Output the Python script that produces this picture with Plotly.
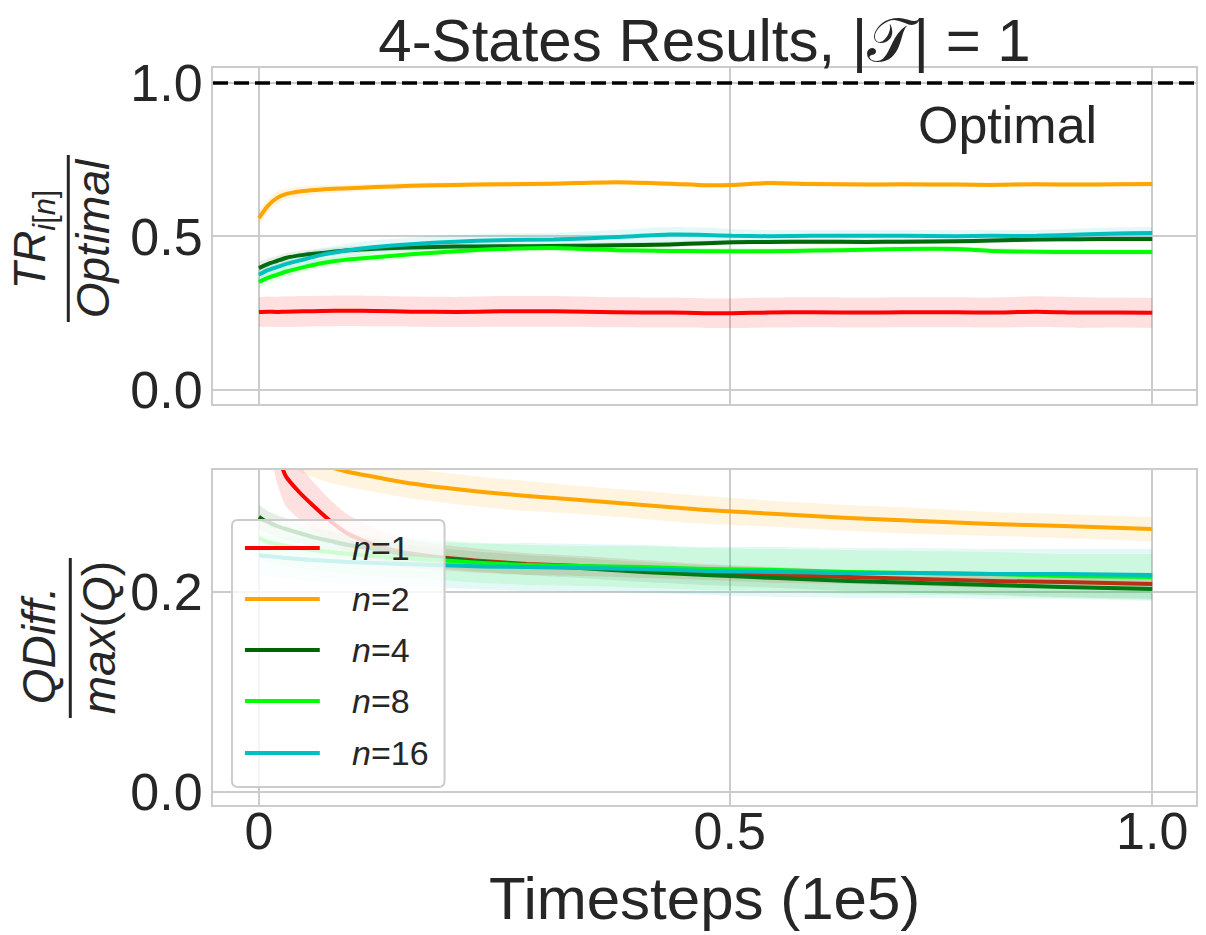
import plotly.graph_objects as go

# ---------------- data ----------------
n_values = [1, 2, 4, 8, 16]
line_colors = ["#ff0000", "#ffa500", "#006400", "#00ff00", "#00bfbf"]
band_colors = ["rgba(255,0,0,0.12)", "rgba(255,165,0,0.12)", "rgba(0,100,0,0.10)",
               "rgba(0,255,0,0.10)", "rgba(0,191,191,0.10)"]

# x positions are in units of 1e5 timesteps
x_top = [0, 0.01, 0.02, 0.03, 0.05, 0.07, 0.10, 0.13, 0.17, 0.22, 0.27, 0.33, 0.40,
         0.46, 0.50, 0.53, 0.57, 0.62, 0.68, 0.72, 0.78, 0.82, 0.87, 0.92, 0.96, 1.00]

tr_n1 = [0.254, 0.255, 0.254, 0.255, 0.256, 0.257, 0.258, 0.257, 0.255, 0.254, 0.256, 0.256, 0.253,
         0.252, 0.250, 0.250, 0.252, 0.253, 0.252, 0.253, 0.253, 0.252, 0.255, 0.252, 0.252, 0.251]
tr_n2 = [0.560, 0.600, 0.625, 0.638, 0.648, 0.653, 0.657, 0.661, 0.665, 0.668, 0.670, 0.672, 0.677,
         0.672, 0.667, 0.668, 0.674, 0.671, 0.669, 0.670, 0.669, 0.668, 0.670, 0.669, 0.670, 0.671]
tr_n4 = [0.397, 0.410, 0.420, 0.430, 0.440, 0.446, 0.455, 0.460, 0.464, 0.467, 0.468, 0.469, 0.471,
         0.474, 0.478, 0.481, 0.482, 0.483, 0.482, 0.483, 0.484, 0.487, 0.490, 0.491, 0.492, 0.492]
tr_n8 = [0.352, 0.365, 0.375, 0.385, 0.400, 0.413, 0.425, 0.432, 0.442, 0.452, 0.459, 0.462, 0.455,
         0.453, 0.452, 0.452, 0.452, 0.454, 0.457, 0.459, 0.459, 0.453, 0.450, 0.449, 0.449, 0.449]
tr_n16 = [0.375, 0.390, 0.400, 0.410, 0.425, 0.440, 0.455, 0.466, 0.475, 0.483, 0.488, 0.490, 0.498,
          0.506, 0.505, 0.502, 0.501, 0.502, 0.502, 0.502, 0.501, 0.502, 0.502, 0.506, 0.510, 0.511]

tr_n1_sd = [0.048, 0.049, 0.049, 0.050, 0.050, 0.050, 0.050, 0.050, 0.049, 0.049, 0.050, 0.050, 0.049,
            0.049, 0.048, 0.048, 0.049, 0.049, 0.049, 0.049, 0.049, 0.049, 0.050, 0.050, 0.049, 0.049]
tr_n2_sd = [0.025, 0.022, 0.020, 0.018, 0.016, 0.014, 0.012, 0.011, 0.010, 0.009, 0.009, 0.008, 0.008,
            0.008, 0.008, 0.008, 0.008, 0.008, 0.008, 0.008, 0.008, 0.008, 0.008, 0.008, 0.008, 0.008]
tr_n4_sd = [0.020, 0.018, 0.016, 0.015, 0.014, 0.013, 0.012, 0.011, 0.010, 0.010, 0.009, 0.009, 0.009,
            0.009, 0.008, 0.008, 0.008, 0.008, 0.008, 0.008, 0.008, 0.008, 0.008, 0.008, 0.008, 0.008]
tr_n8_sd = [0.022, 0.020, 0.018, 0.017, 0.016, 0.015, 0.014, 0.013, 0.012, 0.011, 0.010, 0.010, 0.010,
            0.010, 0.010, 0.010, 0.010, 0.010, 0.010, 0.010, 0.010, 0.010, 0.010, 0.010, 0.010, 0.010]
tr_n16_sd = [0.025, 0.024, 0.024, 0.023, 0.023, 0.022, 0.022, 0.022, 0.022, 0.022, 0.022, 0.022, 0.024,
             0.025, 0.024, 0.022, 0.020, 0.020, 0.020, 0.020, 0.020, 0.020, 0.020, 0.020, 0.020, 0.020]

x_bot = [0, 0.005, 0.01, 0.02, 0.03, 0.045, 0.06, 0.08, 0.10, 0.13, 0.16, 0.20, 0.25,
         0.30, 0.36, 0.43, 0.50, 0.58, 0.66, 0.74, 0.82, 0.90, 1.00]

q_n1 = [0.500, 0.440, 0.400, 0.345, 0.316, 0.300, 0.287, 0.271, 0.258, 0.247, 0.240, 0.235, 0.231,
        0.228, 0.226, 0.223, 0.220, 0.217, 0.215, 0.213, 0.211, 0.210, 0.208]
q_n2 = [0.450, 0.410, 0.385, 0.360, 0.348, 0.338, 0.331, 0.325, 0.320, 0.315, 0.310, 0.305, 0.300,
        0.296, 0.292, 0.287, 0.282, 0.278, 0.274, 0.271, 0.268, 0.266, 0.263]
q_n4 = [0.275, 0.272, 0.270, 0.266, 0.263, 0.259, 0.255, 0.251, 0.247, 0.243, 0.238, 0.234, 0.230,
        0.227, 0.224, 0.220, 0.217, 0.214, 0.211, 0.209, 0.207, 0.205, 0.203]
q_n8 = [0.254, 0.252, 0.250, 0.248, 0.246, 0.244, 0.242, 0.240, 0.238, 0.236, 0.234, 0.232, 0.229,
        0.227, 0.226, 0.225, 0.223, 0.222, 0.220, 0.219, 0.218, 0.216, 0.215]
q_n16 = [0.237, 0.236, 0.236, 0.235, 0.234, 0.233, 0.232, 0.231, 0.230, 0.229, 0.228, 0.227, 0.2255,
         0.225, 0.224, 0.223, 0.221, 0.220, 0.219, 0.219, 0.218, 0.218, 0.217]

q_n1_sd = [0.060, 0.050, 0.045, 0.035, 0.030, 0.027, 0.024, 0.021, 0.019, 0.017, 0.015, 0.013, 0.012,
           0.011, 0.010, 0.009, 0.008, 0.008, 0.007, 0.007, 0.007, 0.006, 0.006]
q_n2_sd = [0.030, 0.025, 0.022, 0.020, 0.018, 0.017, 0.016, 0.016, 0.015, 0.015, 0.015, 0.015, 0.015,
           0.015, 0.014, 0.014, 0.014, 0.013, 0.013, 0.013, 0.012, 0.012, 0.012]
q_n4_sd = [0.012, 0.012, 0.011, 0.011, 0.011, 0.010, 0.010, 0.010, 0.010, 0.010, 0.010, 0.010, 0.010,
           0.010, 0.010, 0.010, 0.010, 0.010, 0.010, 0.010, 0.010, 0.010, 0.010]
q_n8_sd = [0.020, 0.020, 0.020, 0.020, 0.020, 0.020, 0.020, 0.020, 0.020, 0.020, 0.020, 0.020, 0.020,
           0.020, 0.020, 0.021, 0.021, 0.021, 0.022, 0.022, 0.022, 0.022, 0.023]
q_n16_sd = [0.020, 0.020, 0.020, 0.021, 0.021, 0.021, 0.022, 0.022, 0.022, 0.022, 0.023, 0.023, 0.023,
            0.024, 0.024, 0.024, 0.024, 0.025, 0.025, 0.025, 0.025, 0.025, 0.026]

tr_series = [tr_n1, tr_n2, tr_n4, tr_n8, tr_n16]
tr_spread = [tr_n1_sd, tr_n2_sd, tr_n4_sd, tr_n8_sd, tr_n16_sd]
q_series = [q_n1, q_n2, q_n4, q_n8, q_n16]
q_spread = [q_n1_sd, q_n2_sd, q_n4_sd, q_n8_sd, q_n16_sd]

optimal_value = 1.0
x_tick_pos = [0.0, 0.527, 1.0]
x_tick_text = ["0", "0.5", "1.0"]

# ---------------- style ----------------
FONT = "Liberation Sans, Arial, sans-serif"
TEXT = "#262626"
GRID = "#cccccc"
SMOOTH = dict(shape="spline", smoothing=0.6)

fig = go.Figure()


def add_panel(xs, series, spreads, xa, ya):
    for vals, sd, lc, bc in zip(series, spreads, line_colors, band_colors):
        upper = [v + s for v, s in zip(vals, sd)]
        lower = [v - s for v, s in zip(vals, sd)]
        # shaded spread: upper edge, then lower edge filled up to it
        fig.add_trace(go.Scatter(
            x=xs, y=upper, mode="lines", line=dict(width=0, **SMOOTH),
            hoverinfo="skip", showlegend=False, xaxis=xa, yaxis=ya))
        fig.add_trace(go.Scatter(
            x=xs, y=lower, mode="lines", line=dict(width=0, **SMOOTH),
            fill="tonexty", fillcolor=bc,
            hoverinfo="skip", showlegend=False, xaxis=xa, yaxis=ya))
        fig.add_trace(go.Scatter(
            x=xs, y=vals, mode="lines",
            line=dict(color=lc, width=4, **SMOOTH),
            showlegend=False, xaxis=xa, yaxis=ya))


add_panel(x_top, tr_series, tr_spread, "x", "y")
add_panel(x_bot, q_series, q_spread, "x2", "y2")

# ---------------- axes ----------------
W, H = 1206, 935
ML, MR, MT, MB = 213, 8, 68, 130
PW, PH = W - ML - MR, H - MT - MB


def px_x(p):
    return (p - ML) / PW


def px_y(p):
    return (H - MB - p) / PH


axis_common = dict(showline=True, mirror=True, linecolor=GRID, linewidth=2,
                   showgrid=True, gridcolor=GRID, gridwidth=2, zeroline=False,
                   ticks="", tickfont=dict(family=FONT, size=52, color=TEXT))

fig.update_layout(
    xaxis=dict(domain=[0, 1], anchor="y", range=[-0.0514, 1.049],
               tickvals=x_tick_pos, ticktext=x_tick_text, showticklabels=False,
               **axis_common),
    yaxis=dict(domain=[px_y(404), 1], anchor="x", range=[-0.046, 1.049],
               tickvals=[0, 0.5, 1.0], tickformat=".1f", ticklabelstandoff=-2,
               **axis_common),
    xaxis2=dict(domain=[0, 1], anchor="y2", range=[-0.0514, 1.049],
                tickvals=x_tick_pos, ticktext=x_tick_text, ticklabelstandoff=-20,
                **axis_common),
    yaxis2=dict(domain=[0, px_y(470)], anchor="x2", range=[-0.013, 0.322],
                tickvals=[0, 0.2], tickformat=".1f", ticklabelstandoff=-2,
                **axis_common),
)

annotations = [
    dict(text="Optimal", xref="x", yref="y", x=0.838, y=0.863,
         xanchor="center", yanchor="middle", showarrow=False,
         font=dict(family=FONT, size=52, color=TEXT)),
    # x-axis title
    dict(text="Timesteps (1e5)", xref="paper", yref="paper", x=0.5, y=px_y(898),
         xanchor="center", yanchor="middle", showarrow=False,
         font=dict(family=FONT, size=60, color=TEXT)),
    # y-axis title, top panel (fraction)
    dict(text="<i>TR</i><sub><i>i</i>[<i>n</i>]</sub>", xref="paper", yref="paper",
         x=px_x(33), y=px_y(239), xanchor="center", yanchor="middle",
         textangle=-90, showarrow=False, font=dict(family=FONT, size=44, color=TEXT)),
    dict(text="<i>Optimal</i>", xref="paper", yref="paper",
         x=px_x(93), y=px_y(238), xanchor="center", yanchor="middle",
         textangle=-90, showarrow=False, font=dict(family=FONT, size=46, color=TEXT)),
    # y-axis title, bottom panel (fraction)
    dict(text="<i>QDiff.</i>", xref="paper", yref="paper",
         x=px_x(39), y=px_y(645), xanchor="center", yanchor="middle",
         textangle=-90, showarrow=False, font=dict(family=FONT, size=46, color=TEXT)),
    dict(text="<i>max</i>(<i>Q</i>)", xref="paper", yref="paper",
         x=px_x(99), y=px_y(638), xanchor="center", yanchor="middle",
         textangle=-90, showarrow=False, font=dict(family=FONT, size=46, color=TEXT)),
]

shapes = [
    # optimal reference line
    dict(type="line", xref="x domain", yref="y", x0=0, x1=1,
         y0=optimal_value, y1=optimal_value,
         line=dict(color="black", width=3.5, dash="15px,6px")),
    # fraction bars of the y-axis titles
    dict(type="line", xref="paper", yref="paper", x0=px_x(68), x1=px_x(68),
         y0=px_y(155), y1=px_y(322), line=dict(color=TEXT, width=3)),
    dict(type="line", xref="paper", yref="paper", x0=px_x(70), x1=px_x(70),
         y0=px_y(558), y1=px_y(718), line=dict(color=TEXT, width=3)),
]

# legend box (rounded) and entries
lx0, lx1, ly0, ly1, r = 232, 445, 520, 787, 6
box_path = (
    f"M {px_x(lx0 + r)} {px_y(ly0)} L {px_x(lx1 - r)} {px_y(ly0)} "
    f"Q {px_x(lx1)} {px_y(ly0)} {px_x(lx1)} {px_y(ly0 + r)} "
    f"L {px_x(lx1)} {px_y(ly1 - r)} Q {px_x(lx1)} {px_y(ly1)} {px_x(lx1 - r)} {px_y(ly1)} "
    f"L {px_x(lx0 + r)} {px_y(ly1)} Q {px_x(lx0)} {px_y(ly1)} {px_x(lx0)} {px_y(ly1 - r)} "
    f"L {px_x(lx0)} {px_y(ly0 + r)} Q {px_x(lx0)} {px_y(ly0)} {px_x(lx0 + r)} {px_y(ly0)} Z"
)
shapes.append(dict(type="path", xref="paper", yref="paper", path=box_path,
                   fillcolor="rgba(255,255,255,0.8)", line=dict(color=GRID, width=2),
                   layer="above"))

legend_rows = [548, 599, 650, 701, 753]
for n, col, row in zip(n_values, line_colors, legend_rows):
    shapes.append(dict(type="line", xref="paper", yref="paper",
                       x0=px_x(245), x1=px_x(320), y0=px_y(row), y1=px_y(row),
                       line=dict(color=col, width=4), layer="above"))
    annotations.append(dict(text=f"<i>n</i>={n}", xref="paper", yref="paper",
                            x=px_x(350), y=px_y(row), xanchor="left", yanchor="middle",
                            showarrow=False, font=dict(family=FONT, size=34, color=TEXT)))

fig.update_layout(
    width=W, height=H,
    margin=dict(l=ML, r=MR, t=MT, b=MB),
    paper_bgcolor="white", plot_bgcolor="white",
    title=dict(text="4-States Results, |𝒯| = 1", x=0.5, xref="paper",
               y=1 - 40 / H, yref="container", xanchor="center", yanchor="middle",
               font=dict(family=FONT, size=60, color=TEXT)),
    annotations=annotations,
    shapes=shapes,
    showlegend=False,
)

fig.write_html("out.html")
